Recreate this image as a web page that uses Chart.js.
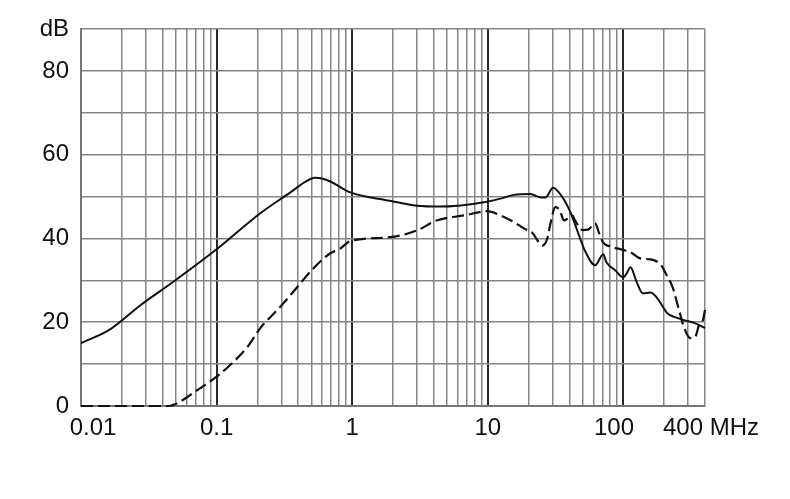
<!DOCTYPE html>
<html>
<head>
<meta charset="utf-8">
<script src="https://cdn.jsdelivr.net/npm/chart.js@4"></script>
<style>
html,body{margin:0;padding:0;background:#fff;}
#wrap{width:790px;height:499px;position:relative;}
</style>
</head>
<body>
<div id="wrap"><canvas id="c" width="790" height="499"></canvas></div>
<script>
// ---- data ----
const solidFreq = [0.01,0.0164,0.0273,0.0477,0.1,0.21,0.35,0.45,0.53,0.6,0.69,0.97,1.9,3.0,4.5,6,8,10,12.4,15.6,20.6,24.5,26.7,30.3,34,40,45.6,52,62,71,75,87,100,105,113,124,139,159,178,212,240,280,337,400];
const solidDb   = [15,18.3,24,29.6,37.4,46,51,53.5,54.5,54.3,53.6,51,49,47.8,47.6,47.8,48.3,48.8,49.5,50.4,50.6,49.8,49.8,52.1,50.7,46.8,42,37.1,33.6,36.2,34.3,32.4,30.7,31.5,33.1,30,26.9,27.1,25.7,22.1,21.2,20.5,19.8,18.6];

const dashFreq = [0.01,0.045,0.05,0.0754,0.1,0.126,0.168,0.21,0.28,0.349,0.53,0.686,0.81,0.97,1.9,3.0,4.2,6.7,9.9,12.4,15.6,18.5,21.5,23.3,25.3,27.5,29,31.5,34,36.5,39,42,44,50,55,62,66,71,80,96,113,134,159,190,205,231,254,280,312,337,366,386,400];
const dashDb   = [0,0,0.5,4.2,7,9.8,14,18.6,22.9,26.4,33.2,36.4,37.5,39.4,40.3,41.9,44.3,45.5,46.5,45.5,43.9,42.4,41.2,39.5,38.3,40,43.6,47.5,46.7,44.3,44.8,45.5,44.3,42,42.1,43.6,41.4,39,38.1,37.4,36.7,35.2,35,33.6,31.7,28.3,23.6,18.8,16.2,16.4,19.8,20.5,22.9];

const xGridValues = [0.01,0.02,0.03,0.04,0.05,0.06,0.07,0.08,0.09,0.1,0.2,0.3,0.4,0.5,0.6,0.7,0.8,0.9,1,2,3,4,5,6,7,8,9,10,20,30,40,50,60,70,80,90,100,200,300,400];
const xMajorValues = [0.1,1,10,100];
const xLabelValues = [0.01,0.1,1,10,100,400];
const xLabelTexts  = ['\u2002\u20020.01','0.1','1','10','100\u2002 ','\u2002400 MHz'];
const yLabelValues = [0,20,40,60,80,90];
const yLabelTexts  = ['0','20','40','60','80','dB'];

const solidPts = solidFreq.map((f,i)=>({x:f,y:solidDb[i]}));
const dashPts  = dashFreq.map((f,i)=>({x:f,y:dashDb[i]}));

function near(a,b){return Math.abs(Math.log10(a)-Math.log10(b))<1e-6;}
function xLabel(v){const i=xLabelValues.findIndex(t=>near(t,v));return i>=0?xLabelTexts[i]:'';}
function isMajor(v){return xMajorValues.some(t=>near(t,v));}

const font = {family:'"Liberation Sans", Arial, sans-serif', size:24};

new Chart(document.getElementById('c'),{
  type:'line',
  data:{datasets:[
    {data:solidPts,borderColor:'#111',borderWidth:2,pointRadius:0,fill:false,cubicInterpolationMode:'monotone',clip:false},
    {data:dashPts,borderColor:'#111',borderWidth:2.2,borderDash:[12,5],pointRadius:0,fill:false,cubicInterpolationMode:'monotone',clip:false}
  ]},
  options:{
    responsive:false,
    animation:false,
    events:[],
    layout:{padding:{top:29,right:85,left:0,bottom:0}},
    plugins:{legend:{display:false},tooltip:{enabled:false}},
    scales:{
      x:{
        type:'logarithmic',min:0.01,max:400,
        afterBuildTicks:(s)=>{s.ticks=xGridValues.map(v=>({value:v}));},
        afterFit:(s)=>{s.height=93;},
        grid:{
          drawTicks:false,
          color:(ctx)=>isMajor(ctx.tick.value)?'#2a2a2a':'#858585',
          lineWidth:(ctx)=>isMajor(ctx.tick.value)?2:1.5
        },
        border:{color:'#777',width:2},
        ticks:{autoSkip:false,maxRotation:0,minRotation:0,padding:8,color:'#111',font:font,
          callback:(v)=>xLabel(v)}
      },
      y:{
        type:'linear',min:0,max:90,
        afterBuildTicks:(s)=>{s.ticks=[0,10,20,30,40,50,60,70,80,90].map(v=>({value:v}));},
        afterFit:(s)=>{s.width=81;},
        grid:{drawTicks:false,color:'#858585',lineWidth:1.5},
        border:{color:'#777',width:2},
        ticks:{autoSkip:false,padding:12,color:'#111',font:font,
          callback:(v)=>{const i=yLabelValues.indexOf(v);return i>=0?yLabelTexts[i]:'';}}
      }
    }
  }
});
</script>
</body>
</html>
